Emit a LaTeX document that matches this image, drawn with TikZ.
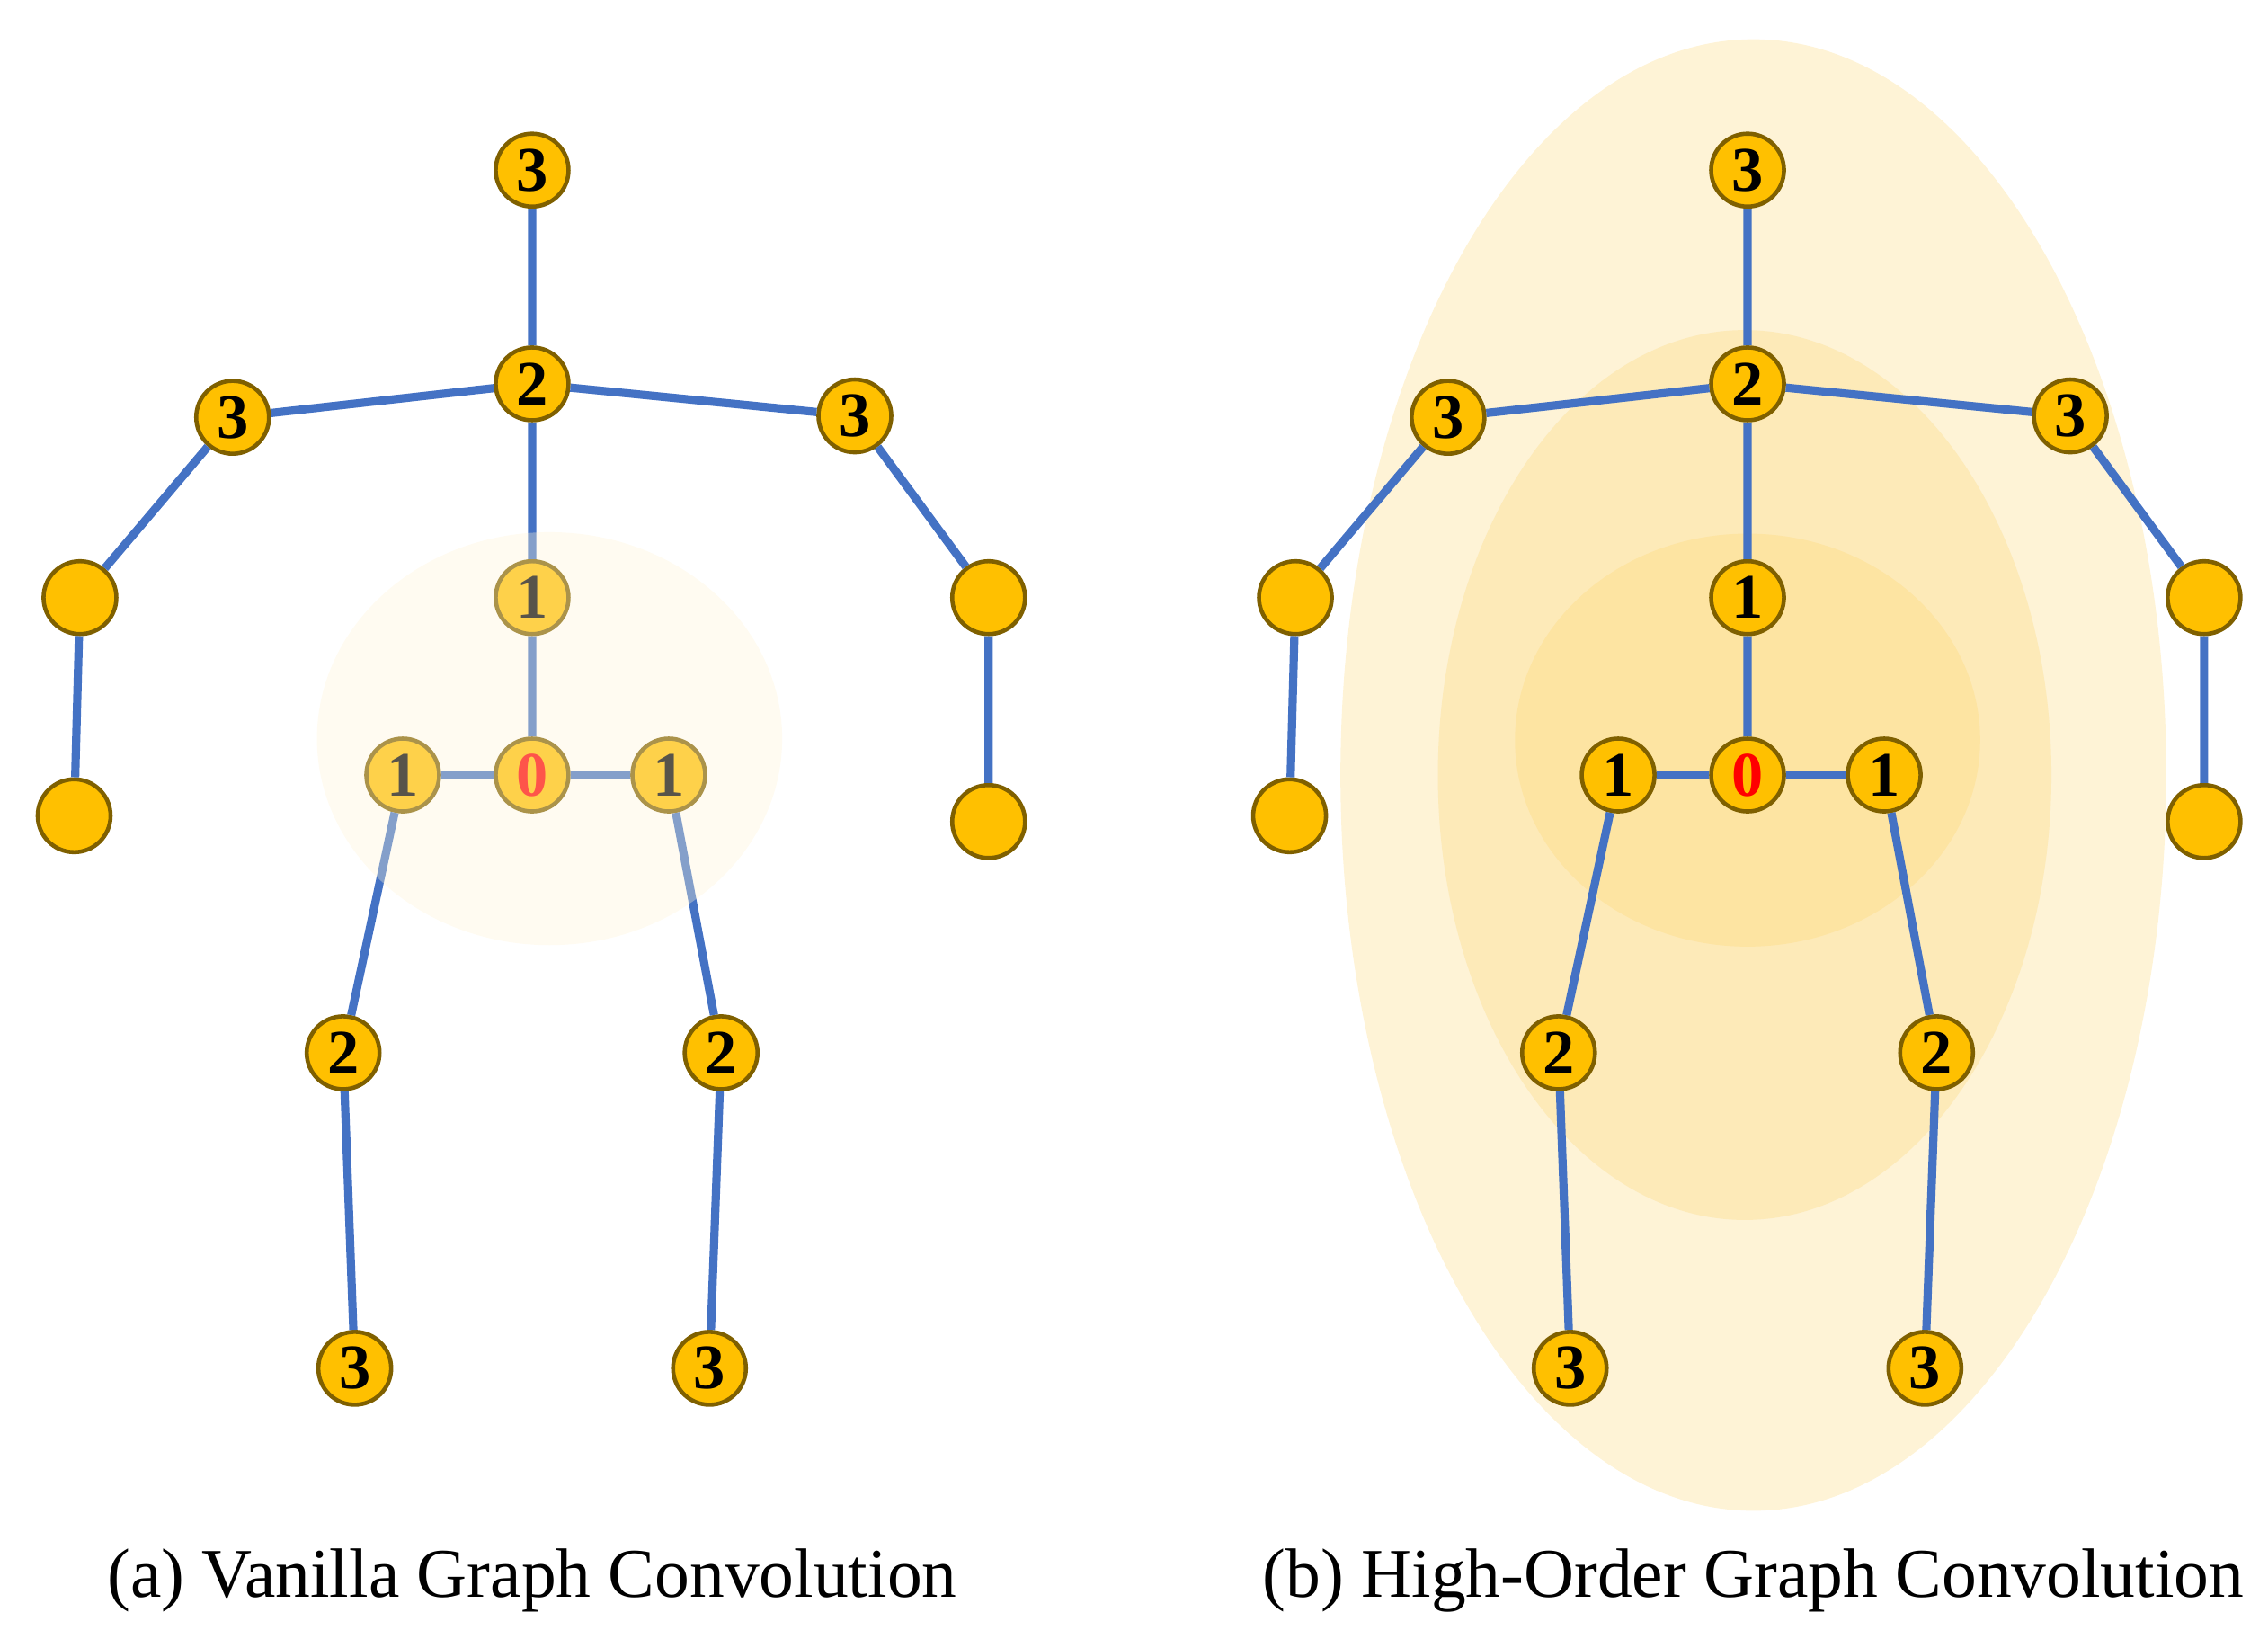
\documentclass[tikz,border=0pt]{standalone}
\usepackage{fontspec}
\setmainfont{Liberation Serif}
\begin{document}
\begin{tikzpicture}[x=0.459pt,y=-0.459pt,
  jt/.style={circle,draw=brd,fill=ylw,line width=1.3pt,minimum size=23pt,inner sep=0pt,font=\fontsize{20}{20}\selectfont\bfseries},
  bone/.style={draw=bl,line width=2.6pt},
  captxt/.style={font=\fontsize{22}{24}\selectfont}]
\definecolor{ylw}{HTML}{FFC000}
\definecolor{brd}{HTML}{7F6000}
\definecolor{bl}{HTML}{4472C4}
\definecolor{e1}{HTML}{FEF3D6}
\definecolor{e2}{HTML}{FDEAB8}
\definecolor{e3}{HTML}{FDE4A2}
\useasboundingbox (0,0) rectangle (1560,1133);
% right panel halos
\fill[e1] (1206,533) ellipse [x radius=284,y radius=506];
\fill[e2] (1200,533) ellipse [x radius=211,y radius=306];
\fill[e3] (1202,509) ellipse [x radius=160,y radius=142];
\foreach \p/\dx in {a/0,b/836}{
\begin{scope}[xshift=\dx*0.459pt]
\node[jt] (\p h) at (366,117) {3};
\node[jt] (\p n) at (366,264) {2};
\node[jt] (\p ls) at (160,287) {3};
\node[jt] (\p rs) at (588,286) {3};
\node[jt] (\p le) at (55,411) {};
\node[jt] (\p lw) at (51,561) {};
\node[jt] (\p re) at (680,411) {};
\node[jt] (\p rw) at (680,565) {};
\node[jt] (\p s) at (366,411) {1};
\node[jt] (\p p) at (366,533) {\textcolor{red}{0}};
\node[jt] (\p lh) at (277,533) {1};
\node[jt] (\p rh) at (460,533) {1};
\node[jt] (\p lk) at (236,724) {2};
\node[jt] (\p rk) at (496,724) {2};
\node[jt] (\p lf) at (244,941) {3};
\node[jt] (\p rf) at (488,941) {3};
\draw[bone] (\p h)--(\p n) (\p n)--(\p ls) (\p n)--(\p rs) (\p ls)--(\p le) (\p le)--(\p lw)
  (\p rs)--(\p re) (\p re)--(\p rw) (\p n)--(\p s) (\p s)--(\p p) (\p p)--(\p lh) (\p p)--(\p rh)
  (\p lh)--(\p lk) (\p lk)--(\p lf) (\p rh)--(\p rk) (\p rk)--(\p rf);
\end{scope}}
% left halo overlay
\fill[e1,opacity=0.35] (378,508) ellipse [x radius=160,y radius=142];
\node[captxt] (ca) at (366,1087) {(a) Vanilla Graph Convolution};
\node[captxt] (cb) at (1206,1087) {(b) High-Order Graph Convolution};
\end{tikzpicture}
\end{document}
